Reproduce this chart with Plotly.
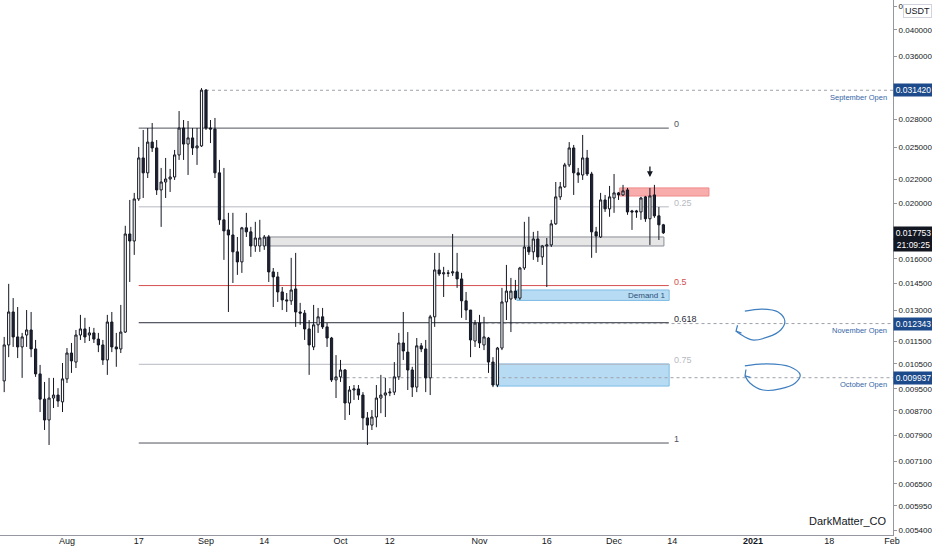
import numpy as np
import pandas as pd
import plotly.graph_objects as go

# daily candles, 18 Jul 2020 -> 12 Dec 2020 (USDT)
dates = pd.date_range('2020-07-18', periods=148, freq='D')

opens = [
    0.00981, 0.01133, 0.01293, 0.01170, 0.01124, 0.01179, 0.01203, 0.01115, 0.01009, 0.00912,
    0.00839, 0.00916, 0.00927, 0.00902, 0.00989, 0.01097, 0.01058, 0.01179, 0.01208, 0.01179,
    0.01189, 0.01160, 0.01133, 0.01067, 0.01242, 0.01124, 0.01115, 0.01193, 0.01767, 0.01718,
    0.02033, 0.02396, 0.02257, 0.02553, 0.02494, 0.02108, 0.02176, 0.02202, 0.02220, 0.02425,
    0.02701, 0.02533, 0.02596, 0.02494, 0.02514, 0.03144, 0.02701, 0.02690, 0.02257, 0.01870,
    0.01796, 0.01760, 0.01645, 0.01580, 0.01811, 0.01782, 0.01684, 0.01684, 0.01684, 0.01746,
    0.01518, 0.01488, 0.01401, 0.01357, 0.01352, 0.01418, 0.01293, 0.01287, 0.01208, 0.01124,
    0.01228, 0.01268, 0.01218, 0.01165, 0.00985, 0.00997, 0.01025, 0.00898, 0.00946, 0.00950,
    0.00927, 0.00846, 0.00822, 0.00849, 0.00916, 0.00927, 0.00935, 0.00938, 0.00997, 0.01142,
    0.01101, 0.01025, 0.00957, 0.01129, 0.01115, 0.00993, 0.01268, 0.01530, 0.01506, 0.01512,
    0.01512, 0.01518, 0.01476, 0.01352, 0.01303, 0.01151, 0.01237, 0.01133, 0.01165, 0.01058,
    0.00965, 0.01119, 0.01346, 0.01362, 0.01406, 0.01367, 0.01542, 0.01677, 0.01645, 0.01732,
    0.01612, 0.01684, 0.01691, 0.01840, 0.02050, 0.02134, 0.02330, 0.02494, 0.02257, 0.02238,
    0.02396, 0.02247, 0.01782, 0.01746, 0.02025, 0.01954, 0.02041, 0.02083, 0.02066, 0.02108,
    0.01938, 0.01938, 0.01930, 0.02050, 0.01878, 0.02066, 0.01900, 0.01833,
]
highs = [
    0.01170, 0.01447, 0.01367, 0.01319, 0.01189, 0.01303, 0.01293, 0.01156, 0.01046, 0.00977,
    0.00993, 0.00993, 0.00953, 0.01054, 0.01119, 0.01142, 0.01203, 0.01278, 0.01263, 0.01218,
    0.01213, 0.01189, 0.01156, 0.01278, 0.01293, 0.01189, 0.01330, 0.01826, 0.02025, 0.02083,
    0.02504, 0.02680, 0.02701, 0.02756, 0.02574, 0.02302, 0.02396, 0.02293, 0.02474, 0.02891,
    0.02789, 0.02778, 0.02701, 0.02701, 0.03169, 0.03157, 0.02789, 0.02812, 0.02377, 0.02302,
    0.01923, 0.01923, 0.01746, 0.01818, 0.01923, 0.01818, 0.01855, 0.01870, 0.01760, 0.01760,
    0.01542, 0.01518, 0.01429, 0.01395, 0.01606, 0.01638, 0.01341, 0.01303, 0.01252, 0.01330,
    0.01314, 0.01314, 0.01237, 0.01170, 0.01088, 0.01067, 0.01029, 0.00961, 0.00965, 0.00965,
    0.00938, 0.00866, 0.00873, 0.00965, 0.01005, 0.00993, 0.00953, 0.01058, 0.01189, 0.01293,
    0.01193, 0.01038, 0.01165, 0.01142, 0.01156, 0.01278, 0.01638, 0.01638, 0.01549, 0.01530,
    0.01767, 0.01638, 0.01512, 0.01401, 0.01303, 0.01252, 0.01278, 0.01268, 0.01170, 0.01079,
    0.01124, 0.01424, 0.01561, 0.01482, 0.01470, 0.01549, 0.01855, 0.01893, 0.01782, 0.01789,
    0.01691, 0.01739, 0.01870, 0.02176, 0.02176, 0.02349, 0.02553, 0.02524, 0.02302, 0.02627,
    0.02474, 0.02266, 0.01818, 0.02083, 0.02066, 0.02142, 0.02247, 0.02091, 0.02151, 0.02125,
    0.01946, 0.01946, 0.02050, 0.02058, 0.02125, 0.02151, 0.01969, 0.01840,
]
lows = [
    0.00938, 0.01079, 0.01124, 0.01075, 0.00993, 0.01124, 0.01079, 0.00997, 0.00866, 0.00806,
    0.00759, 0.00880, 0.00884, 0.00866, 0.00973, 0.01013, 0.01033, 0.01156, 0.01142, 0.01151,
    0.01142, 0.01101, 0.01046, 0.01005, 0.01101, 0.01038, 0.01097, 0.01189, 0.01458, 0.01625,
    0.02017, 0.02041, 0.02211, 0.02454, 0.02066, 0.01818, 0.02041, 0.02091, 0.02194, 0.02377,
    0.02377, 0.02238, 0.02425, 0.02330, 0.02504, 0.02680, 0.02543, 0.02211, 0.01833, 0.01593,
    0.01293, 0.01452, 0.01500, 0.01512, 0.01746, 0.01612, 0.01645, 0.01645, 0.01658, 0.01458,
    0.01319, 0.01346, 0.01303, 0.01293, 0.01330, 0.01218, 0.01228, 0.01156, 0.01005, 0.01110,
    0.01189, 0.01208, 0.01124, 0.00977, 0.00916, 0.00977, 0.00839, 0.00856, 0.00909, 0.00909,
    0.00806, 0.00759, 0.00806, 0.00815, 0.00862, 0.00849, 0.00923, 0.00927, 0.00985, 0.01067,
    0.00946, 0.00920, 0.00938, 0.01101, 0.00938, 0.00927, 0.01218, 0.01494, 0.01373, 0.01488,
    0.01494, 0.01424, 0.01263, 0.01252, 0.01079, 0.01124, 0.01119, 0.01110, 0.01013, 0.00957,
    0.00957, 0.01110, 0.01252, 0.01193, 0.01357, 0.01357, 0.01530, 0.01625, 0.01593, 0.01580,
    0.01561, 0.01429, 0.01677, 0.01833, 0.02025, 0.02125, 0.02311, 0.02066, 0.02168, 0.02194,
    0.02229, 0.01606, 0.01638, 0.01739, 0.01930, 0.01893, 0.01923, 0.02025, 0.02058, 0.01908,
    0.01796, 0.01885, 0.01870, 0.01855, 0.01691, 0.01885, 0.01725, 0.01767,
]
closes = [
    0.01133, 0.01293, 0.01170, 0.01124, 0.01170, 0.01203, 0.01115, 0.01009, 0.00912, 0.00839,
    0.00916, 0.00927, 0.00905, 0.00989, 0.01097, 0.01063, 0.01179, 0.01208, 0.01170, 0.01189,
    0.01160, 0.01133, 0.01067, 0.01242, 0.01124, 0.01115, 0.01193, 0.01767, 0.01718, 0.02033,
    0.02396, 0.02257, 0.02553, 0.02494, 0.02108, 0.02176, 0.02202, 0.02220, 0.02425, 0.02701,
    0.02533, 0.02596, 0.02494, 0.02514, 0.03144, 0.02701, 0.02690, 0.02257, 0.01870, 0.01789,
    0.01760, 0.01645, 0.01580, 0.01811, 0.01782, 0.01684, 0.01739, 0.01739, 0.01746, 0.01518,
    0.01488, 0.01401, 0.01357, 0.01352, 0.01412, 0.01293, 0.01287, 0.01208, 0.01133, 0.01228,
    0.01268, 0.01218, 0.01165, 0.00985, 0.00997, 0.01025, 0.00898, 0.00946, 0.00950, 0.00927,
    0.00846, 0.00822, 0.00849, 0.00916, 0.00927, 0.00935, 0.00938, 0.00997, 0.01142, 0.01106,
    0.01025, 0.00957, 0.01129, 0.01115, 0.00993, 0.01268, 0.01530, 0.01506, 0.01512, 0.01510,
    0.01518, 0.01476, 0.01352, 0.01303, 0.01156, 0.01237, 0.01142, 0.01170, 0.01058, 0.00965,
    0.01119, 0.01346, 0.01406, 0.01406, 0.01367, 0.01542, 0.01677, 0.01645, 0.01732, 0.01612,
    0.01684, 0.01691, 0.01840, 0.02050, 0.02134, 0.02330, 0.02494, 0.02257, 0.02238, 0.02396,
    0.02247, 0.01782, 0.01753, 0.02025, 0.01954, 0.02050, 0.02083, 0.02066, 0.02100, 0.01930,
    0.01930, 0.01930, 0.02041, 0.01878, 0.02058, 0.01900, 0.01833, 0.017753,
]
last_price = 0.017753
countdown = '21:09:25'

# fib retracement (log) drawn from the Sep high to the Oct low
fib_high = 0.0270
fib_low = 0.00765
fib_levels = [0, 0.25, 0.5, 0.618, 0.75, 1]
fib_labels = ['0', '0.25', '0.5', '0.618', '0.75', '1']
fib_start = '2020-08-17'
fib_end = '2020-12-13 05:00'

# monthly opens
open_names = ['September Open', 'October Open', 'November Open']
open_dates = ['2020-09-01', '2020-10-01', '2020-11-01']
open_prices = [0.031420, 0.009937, 0.012343]

# zones
zone_names = ['range', 'supply', 'Demand 1', 'demand 2']
zone_start = ['2020-09-14 12:00', '2020-12-02 06:00', '2020-11-09 08:00', '2020-11-04 17:00']
zone_end = ['2020-12-12 03:00', '2020-12-22 04:00', '2020-12-13 07:00', '2020-12-13 07:00']
zone_low = [0.01684, 0.02057, 0.01354, 0.00961]
zone_high = [0.01746, 0.02125, 0.01412, 0.01050]

# hand drawn loops
loop1_x = ['2020-12-30 04:00', '2021-01-03 00:00', '2021-01-06 14:00', '2021-01-08 02:00',
           '2021-01-07 04:00', '2021-01-04 08:00', '2020-12-31 19:00', '2020-12-29 02:00',
           '2020-12-28 05:00']
loop1_y = [0.01297, 0.01308, 0.01293, 0.01247, 0.01203, 0.01170, 0.01156, 0.01184, 0.01198]
head1_x = ['2020-12-28 13:00', '2020-12-28 05:00', '2020-12-29 10:00']
head1_y = [0.01226, 0.01198, 0.01188]
loop2_x = ['2020-12-30 04:00', '2021-01-04 02:00', '2021-01-09 05:00', '2021-01-11 12:00',
           '2021-01-10 10:00', '2021-01-07 00:00', '2021-01-03 05:00', '2020-12-31 07:00',
           '2020-12-30 05:00']
loop2_y = [0.01042, 0.01050, 0.01038, 0.01005, 0.00973, 0.00950, 0.00946, 0.00973, 0.01001]
head2_x = ['2020-12-30 10:00', '2020-12-30 05:00', '2020-12-31 10:00']
head2_y = [0.01027, 0.01001, 0.00995]

arrow_date = '2020-12-09'
arrow_price = 0.0222

y_ticks = [0.0054, 0.00595, 0.0065, 0.0071, 0.0079, 0.0087, 0.0095, 0.0105, 0.0115,
           0.013, 0.0145, 0.016, 0.02, 0.022, 0.025, 0.028, 0.036, 0.04, 0.044]
x_tick_dates = ['2020-08-01', '2020-08-17', '2020-09-01', '2020-09-14', '2020-10-01',
                '2020-10-12', '2020-11-01', '2020-11-16', '2020-12-01', '2020-12-14',
                '2021-01-01', '2021-01-18', '2021-02-01']
x_tick_text = ['Aug', '17', 'Sep', '14', 'Oct', '12', 'Nov', '16', 'Dec', '14',
               '<b>2021</b>', '18', 'Feb']

FONT = 'Liberation Sans, Arial, sans-serif'
DARK = '#131722'
X_RANGE = ['2020-07-17 01:30', '2021-02-01 05:00']

fig = go.Figure()

fig.add_trace(go.Candlestick(
    x=dates, open=opens, high=highs, low=lows, close=closes,
    increasing=dict(line=dict(color=DARK, width=1), fillcolor='#ffffff'),
    decreasing=dict(line=dict(color=DARK, width=1), fillcolor='#1e2235'),
    hoverinfo='skip', showlegend=False,
))

for lx, ly in [(loop1_x, loop1_y), (loop2_x, loop2_y)]:
    fig.add_trace(go.Scatter(x=lx, y=ly, mode='lines', hoverinfo='skip',
                             line=dict(color='#3f7fc0', width=1.2, shape='spline')))
for hx, hy in [(head1_x, head1_y), (head2_x, head2_y)]:
    fig.add_trace(go.Scatter(x=hx, y=hy, mode='lines', hoverinfo='skip',
                             line=dict(color='#3f7fc0', width=1.2)))

# zones
zone_style = {
    'range': dict(fillcolor='rgba(200,200,200,0.45)', line=dict(color='#8a8d96', width=1)),
    'supply': dict(fillcolor='rgba(242,90,90,0.5)', line=dict(color='#f08a8a', width=1)),
    'Demand 1': dict(fillcolor='rgba(80,170,225,0.42)', line=dict(color='#7fbce6', width=1)),
    'demand 2': dict(fillcolor='rgba(80,170,225,0.42)', line=dict(color='#7fbce6', width=1)),
}
for name, x0, x1, lo, hi in zip(zone_names, zone_start, zone_end, zone_low, zone_high):
    fig.add_shape(type='rect', xref='x', yref='y', x0=x0, x1=x1, y0=lo, y1=hi,
                  layer='below', **zone_style[name])
fig.add_annotation(x=zone_end[2], y=np.log10(np.sqrt(zone_low[2] * zone_high[2])),
                   text='Demand 1', showarrow=False, xanchor='right', xshift=-2,
                   font=dict(family=FONT, size=8, color='#2d4f78'))

# fib levels
fib_colors = ['#50535e', '#b7bac2', '#d44f4f', '#2a2e39', '#b7bac2', '#50535e']
lg_hi, lg_lo = np.log10(fib_high), np.log10(fib_low)
for lvl, lab, col in zip(fib_levels, fib_labels, fib_colors):
    price = 10 ** (lg_hi + lvl * (lg_lo - lg_hi))
    fig.add_shape(type='line', xref='x', yref='y', x0=fib_start, x1=fib_end,
                  y0=price, y1=price, layer='below', line=dict(color=col, width=1))
    fig.add_annotation(x=fib_end, y=np.log10(price), text=lab, showarrow=False,
                       xanchor='left', xshift=3, yshift=4,
                       font=dict(family=FONT, size=9, color=col))

# monthly open lines + axis labels
OPEN_BLUE = '#1c4a8a'
for name, d, p in zip(open_names, open_dates, open_prices):
    fig.add_shape(type='line', xref='x', yref='y', x0=d, x1=X_RANGE[1], y0=p, y1=p,
                  layer='below', line=dict(color='#9ea1aa', width=1, dash='dot'))
    fig.add_annotation(xref='paper', x=0.995, y=np.log10(p), text=name, showarrow=False,
                       xanchor='right', yshift=-7,
                       font=dict(family=FONT, size=7.5, color='#3566a8'))
    fig.add_annotation(xref='paper', x=1, y=np.log10(p), text=f'{p:.6f}', showarrow=False,
                       xanchor='left', width=37, bgcolor=OPEN_BLUE, borderpad=1,
                       font=dict(family=FONT, size=8.5, color='white'))

fig.add_annotation(xref='paper', x=1, y=np.log10(last_price), text=f'{last_price:.6f}',
                   showarrow=False, xanchor='left', width=37, bgcolor=DARK, borderpad=1,
                   font=dict(family=FONT, size=8.5, color='white'))
fig.add_annotation(xref='paper', x=1, y=np.log10(last_price), text=countdown, yshift=-12,
                   showarrow=False, xanchor='left', width=37, bgcolor=DARK, borderpad=1,
                   font=dict(family=FONT, size=8.5, color='white'))

# down arrow over the rejection candle
fig.add_annotation(x=arrow_date, y=np.log10(arrow_price), text='', showarrow=True,
                   ax=0, ay=-12, arrowhead=2, arrowsize=0.9, arrowwidth=1.3,
                   arrowcolor=DARK)

fig.add_annotation(xref='paper', yref='paper', x=1, y=1, xanchor='left', yanchor='top',
                   xshift=10, yshift=-4, text='USDT', showarrow=False, bgcolor='white',
                   bordercolor='#d1d4dc', borderwidth=1, borderpad=1,
                   font=dict(family=FONT, size=9, color=DARK))
fig.add_annotation(xref='paper', yref='paper', x=0.994, y=0.012, xanchor='right',
                   yanchor='bottom', text='DarkMatter_CO', showarrow=False,
                   font=dict(family=FONT, size=11, color=DARK))

fig.update_layout(
    width=932, height=550,
    margin=dict(l=0, r=39, t=0, b=15),
    paper_bgcolor='white', plot_bgcolor='white',
    showlegend=False,
    font=dict(family=FONT, size=9, color=DARK),
    xaxis=dict(
        type='date', range=X_RANGE, rangeslider=dict(visible=False),
        tickvals=x_tick_dates, ticktext=x_tick_text, showgrid=False, zeroline=False,
        showline=True, linecolor='#9598a1', linewidth=1,
        ticks='', ticklabelstandoff=-3,
        tickfont=dict(family=FONT, size=9, color=DARK),
    ),
    yaxis=dict(
        type='log', side='right',
        range=[np.log10(0.005293), np.log10(0.0451)],
        tickvals=y_ticks, ticktext=[f'{v:.6f}' for v in y_ticks],
        showgrid=False, zeroline=False,
        showline=True, linecolor='#9598a1', linewidth=1,
        ticks='outside', ticklen=3, tickcolor='#9598a1',
        tickfont=dict(family=FONT, size=8, color=DARK),
    ),
)

# the page has a default body margin; remove it so the figure sits at 0,0
fig.write_html('out.html', config={'displayModeBar': False},
               post_script="document.body.style.margin='0';")
